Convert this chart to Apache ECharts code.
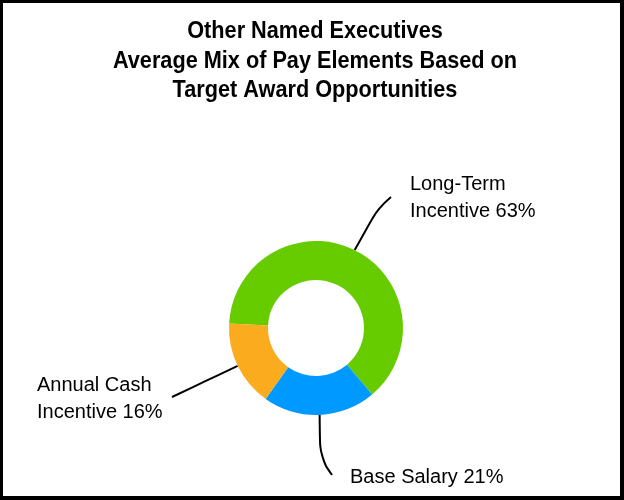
<!DOCTYPE html>
<html>
<head>
<meta charset="utf-8">
<script src="https://cdn.jsdelivr.net/npm/echarts@6/dist/echarts.min.js"></script>
<style>
  html, body { margin: 0; padding: 0; background: #fff; }
  #wrap { position: relative; width: 624px; height: 500px; box-sizing: border-box;
          border-style: solid; border-color: #000; border-width: 3px 4px 4px 3px; }
  #chart { position: absolute; left: -3px; top: -3px; width: 624px; height: 500px; }
</style>
</head>
<body>
<div id="wrap"><div id="chart"></div></div>
<script>
const titleLines = ['Other Named Executives', 'Average Mix of Pay Elements Based on', 'Target Award Opportunities'];
const categories = ['Long-Term\nIncentive', 'Base Salary', 'Annual Cash\nIncentive'];
const values = [63, 21, 16];
const colors = ['#66CC00', '#0099FF', '#FAAB1E'];

// label anchor positions and leader-line bend/end offsets (layout only)
const labelPos = [
  { x: 410, y: 198, align: 'left', verticalAlign: 'middle' },
  { x: 350, y: 477, align: 'left', verticalAlign: 'middle' },
  { x: 37, y: 399, align: 'left', verticalAlign: 'middle' }
];
const lineBend = [[378, 208], [320, 458], null];
const lineEnd = [[391, 197], [332, 475], [172, 397]];

const chart = echarts.init(document.getElementById('chart'), null, { renderer: 'canvas' });
chart.setOption({
  animation: false,
  graphic: [{
    type: 'text',
    x: 315, y: 17,
    originX: 0, originY: 0,
    scaleY: 1.1,
    style: {
      text: titleLines.join('\n'),
      font: 'bold 21.7px "Liberation Sans"',
      lineHeight: 26.8,
      fill: '#000',
      align: 'center',
      verticalAlign: 'top'
    }
  }],
  series: [{
    type: 'pie',
    center: [316, 328],
    radius: [48, 87],
    startAngle: 177,
    clockwise: true,
    silent: true,
    data: categories.map((c, i) => ({
      name: c, value: values[i],
      itemStyle: { color: colors[i] }
    })),
    label: {
      show: true,
      formatter: p => p.name + ' ' + p.value + '%',
      fontFamily: 'Liberation Sans',
      fontSize: 20,
      lineHeight: 27.5,
      color: '#000'
    },
    labelLine: {
      show: true,
      smooth: 0.45,
      length: 20,
      length2: 0,
      lineStyle: { color: '#000', width: 2 }
    },
    labelLayout: function (params) {
      const i = params.dataIndex;
      const start = params.labelLinePoints ? params.labelLinePoints[0] : null;
      const out = Object.assign({}, labelPos[i]);
      if (start) {
        const end = lineEnd[i];
        const bend = lineBend[i] || [(start[0] + end[0]) / 2, (start[1] + end[1]) / 2];
        out.labelLinePoints = [start, bend, end];
      }
      return out;
    }
  }]
});
</script>
</body>
</html>
